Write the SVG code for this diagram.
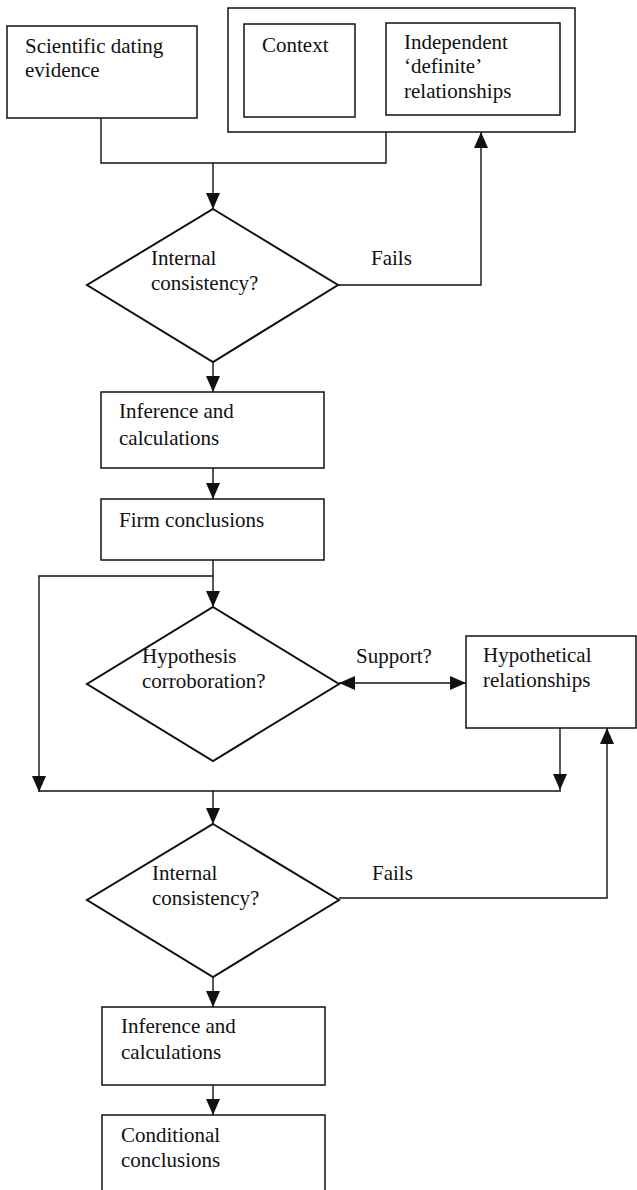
<svg xmlns="http://www.w3.org/2000/svg" width="637" height="1190" viewBox="0 0 637 1190">
  <style>
    .box { fill: none; stroke: #111; stroke-width: 1.5; }
    .dia { fill: none; stroke: #111; stroke-width: 2; stroke-linejoin: miter; }
    .wire { fill: none; stroke: #111; stroke-width: 1.4; }
    .lbl { font-family: "Liberation Serif", "Times New Roman", serif; font-size: 21px; fill: #111; }
  </style>
  <defs>
    <marker id="arrow" markerUnits="userSpaceOnUse" markerWidth="16" markerHeight="14" refX="16" refY="7" orient="auto-start-reverse">
      <path d="M0,0 L16,7 L0,14 z" fill="#111"/>
    </marker>
  </defs>

  <rect width="637" height="1190" fill="#fff"/>

  <!-- inputs -->
  <g id="scientific-dating">
    <rect class="box" x="7" y="26" width="190" height="92"/>
    <text class="lbl" x="25" y="53">Scientific dating</text>
    <text class="lbl" x="25" y="77">evidence</text>
  </g>
  <g id="constraints">
    <rect class="box" x="228" y="8" width="347" height="124"/>
  </g>
  <g id="context">
    <rect class="box" x="244" y="24" width="111" height="93"/>
    <text class="lbl" x="262" y="52">Context</text>
  </g>
  <g id="definite-relationships">
    <rect class="box" x="386" y="23" width="174" height="92"/>
    <text class="lbl" x="404" y="49">Independent</text>
    <text class="lbl" x="404" y="73">‘definite’</text>
    <text class="lbl" x="404" y="98">relationships</text>
  </g>

  <!-- first pass -->
  <g id="consistency-1">
    <polygon class="dia" points="213,209 338,285 213,362 87,285"/>
    <text class="lbl" x="151" y="265">Internal</text>
    <text class="lbl" x="151" y="290">consistency?</text>
  </g>
  <g id="inference-1">
    <rect class="box" x="101" y="392" width="223" height="76"/>
    <text class="lbl" x="119" y="418">Inference and</text>
    <text class="lbl" x="119" y="445">calculations</text>
  </g>
  <g id="firm-conclusions">
    <rect class="box" x="101" y="499" width="223" height="61"/>
    <text class="lbl" x="119" y="527">Firm conclusions</text>
  </g>

  <!-- hypothesis testing -->
  <g id="corroboration">
    <polygon class="dia" points="213,607 339,684 213,761 87,684"/>
    <text class="lbl" x="142" y="663">Hypothesis</text>
    <text class="lbl" x="142" y="688">corroboration?</text>
  </g>
  <g id="hypothetical-relationships">
    <rect class="box" x="466" y="636" width="170" height="92"/>
    <text class="lbl" x="483" y="662">Hypothetical</text>
    <text class="lbl" x="483" y="687">relationships</text>
  </g>

  <!-- second pass -->
  <g id="consistency-2">
    <polygon class="dia" points="213,824 339,900 213,977 87,900"/>
    <text class="lbl" x="152" y="880">Internal</text>
    <text class="lbl" x="152" y="905">consistency?</text>
  </g>
  <g id="inference-2">
    <rect class="box" x="102" y="1007" width="223" height="78"/>
    <text class="lbl" x="121" y="1033">Inference and</text>
    <text class="lbl" x="121" y="1059">calculations</text>
  </g>
  <g id="conditional-conclusions">
    <rect class="box" x="102" y="1115" width="223" height="90"/>
    <text class="lbl" x="121" y="1142">Conditional</text>
    <text class="lbl" x="121" y="1167">conclusions</text>
  </g>

  <!-- connectors -->
  <g id="connectors">
    <polyline class="wire" points="101,118 101,163 386,163 386,132"/>
    <line class="wire" x1="213" y1="163" x2="213" y2="209" marker-end="url(#arrow)"/>
    <polyline class="wire" points="338,285 481,285 481,132" marker-end="url(#arrow)"/>
    <text class="lbl" x="371" y="265">Fails</text>
    <line class="wire" x1="213" y1="362" x2="213" y2="392" marker-end="url(#arrow)"/>
    <line class="wire" x1="213" y1="468" x2="213" y2="499" marker-end="url(#arrow)"/>
    <line class="wire" x1="213" y1="560" x2="213" y2="607" marker-end="url(#arrow)"/>
    <polyline class="wire" points="213,576 39,576 39,792" marker-end="url(#arrow)"/>
    <line class="wire" x1="339" y1="683" x2="466" y2="683" marker-start="url(#arrow)" marker-end="url(#arrow)"/>
    <text class="lbl" x="356" y="663">Support?</text>
    <line class="wire" x1="560" y1="728" x2="560" y2="790" marker-end="url(#arrow)"/>
    <line class="wire" x1="39" y1="791" x2="561" y2="791"/>
    <line class="wire" x1="213" y1="791" x2="213" y2="824" marker-end="url(#arrow)"/>
    <polyline class="wire" points="339,898 607,898 607,728" marker-end="url(#arrow)"/>
    <text class="lbl" x="372" y="880">Fails</text>
    <line class="wire" x1="213" y1="977" x2="213" y2="1007" marker-end="url(#arrow)"/>
    <line class="wire" x1="213" y1="1085" x2="213" y2="1115" marker-end="url(#arrow)"/>
  </g>
</svg>
